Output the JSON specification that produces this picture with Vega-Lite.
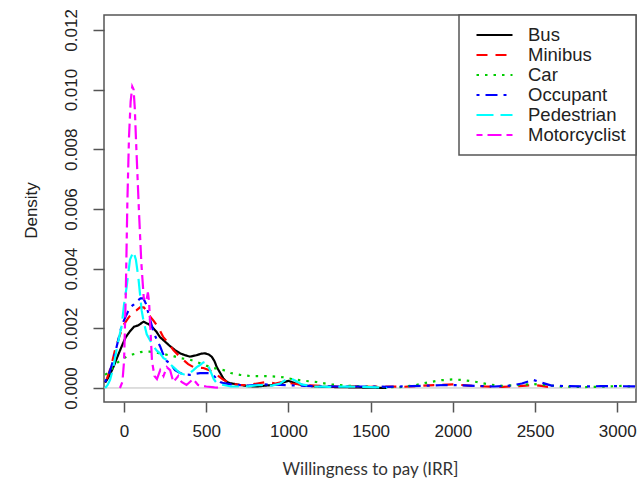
{
  "$schema": "https://vega.github.io/schema/vega-lite/v6.json",
  "width": 532,
  "height": 387,
  "autosize": "none",
  "padding": {"left": 104, "top": 15, "right": 3, "bottom": 101},
  "background": "white",
  "config": {
    "view": {"stroke": "#555", "strokeWidth": 1.5},
    "font": "Liberation Sans",
    "legend": {
      "orient": "top-right",
      "offset": 0,
      "strokeColor": "#555",
      "strokeWidth": 1.5,
      "fillColor": "white",
      "padding": 10,
      "symbolType": "stroke",
      "symbolSize": 1296,
      "symbolStrokeWidth": 2.2,
      "symbolOffset": 6,
      "clipHeight": 20,
      "labelFontSize": 18.5,
      "labelFont": "Liberation Sans",
      "labelColor": "#222",
      "labelOffset": 14,
      "rowPadding": 0,
      "labelLimit": 300
    }
  },
  "datasets": {
    "dens": [
      {"s":"Bus","x":-115,"y":0.00018},{"s":"Bus","x":-90,"y":0.0004},{"s":"Bus","x":-65,"y":0.0007},{"s":"Bus","x":-40,"y":0.00105},{"s":"Bus","x":-14,"y":0.0014},{"s":"Bus","x":10,"y":0.0017},{"s":"Bus","x":36,"y":0.0019},{"s":"Bus","x":60,"y":0.00205},{"s":"Bus","x":87,"y":0.0021},{"s":"Bus","x":118,"y":0.00222},{"s":"Bus","x":145,"y":0.00215},{"s":"Bus","x":168,"y":0.00206},{"s":"Bus","x":195,"y":0.0019},{"s":"Bus","x":219,"y":0.0017},{"s":"Bus","x":250,"y":0.00155},{"s":"Bus","x":280,"y":0.0014},{"s":"Bus","x":310,"y":0.00127},{"s":"Bus","x":341,"y":0.00116},{"s":"Bus","x":370,"y":0.0011},{"s":"Bus","x":401,"y":0.00105},{"s":"Bus","x":442,"y":0.0011},{"s":"Bus","x":470,"y":0.00115},{"s":"Bus","x":493,"y":0.00116},{"s":"Bus","x":515,"y":0.00112},{"s":"Bus","x":533,"y":0.00105},{"s":"Bus","x":550,"y":0.0009},{"s":"Bus","x":564,"y":0.0007},{"s":"Bus","x":585,"y":0.0005},{"s":"Bus","x":604,"y":0.00032},{"s":"Bus","x":625,"y":0.0002},{"s":"Bus","x":645,"y":0.00016},{"s":"Bus","x":706,"y":0.0001},{"s":"Bus","x":760,"y":0.00006},{"s":"Bus","x":807,"y":0.00005},{"s":"Bus","x":860,"y":0.00008},{"s":"Bus","x":908,"y":0.0001},{"s":"Bus","x":960,"y":0.00017},{"s":"Bus","x":1000,"y":0.00024},{"s":"Bus","x":1040,"y":0.00016},{"s":"Bus","x":1100,"y":0.00008},{"s":"Bus","x":1200,"y":0.00004},{"s":"Bus","x":1300,"y":0.00003},{"s":"Bus","x":1400,"y":0.00002},{"s":"Bus","x":1500,"y":0.00001},{"s":"Bus","x":1600,"y":0},
      {"s":"Minibus","x":-105,"y":0.0003},{"s":"Minibus","x":-80,"y":0.0007},{"s":"Minibus","x":-55,"y":0.00127},{"s":"Minibus","x":-30,"y":0.0017},{"s":"Minibus","x":-4,"y":0.0021},{"s":"Minibus","x":20,"y":0.0023},{"s":"Minibus","x":47,"y":0.0025},{"s":"Minibus","x":75,"y":0.0026},{"s":"Minibus","x":97,"y":0.0027},{"s":"Minibus","x":120,"y":0.0027},{"s":"Minibus","x":140,"y":0.00258},{"s":"Minibus","x":158,"y":0.0024},{"s":"Minibus","x":180,"y":0.00225},{"s":"Minibus","x":199,"y":0.0021},{"s":"Minibus","x":220,"y":0.0019},{"s":"Minibus","x":239,"y":0.0017},{"s":"Minibus","x":270,"y":0.0015},{"s":"Minibus","x":300,"y":0.00127},{"s":"Minibus","x":330,"y":0.0011},{"s":"Minibus","x":361,"y":0.00094},{"s":"Minibus","x":390,"y":0.0008},{"s":"Minibus","x":422,"y":0.0007},{"s":"Minibus","x":450,"y":0.00068},{"s":"Minibus","x":483,"y":0.00067},{"s":"Minibus","x":515,"y":0.0006},{"s":"Minibus","x":543,"y":0.00055},{"s":"Minibus","x":575,"y":0.0004},{"s":"Minibus","x":605,"y":0.00027},{"s":"Minibus","x":650,"y":0.00015},{"s":"Minibus","x":706,"y":0.0001},{"s":"Minibus","x":760,"y":0.0001},{"s":"Minibus","x":810,"y":0.00015},{"s":"Minibus","x":868,"y":0.0002},{"s":"Minibus","x":920,"y":0.00015},{"s":"Minibus","x":980,"y":0.00022},{"s":"Minibus","x":1020,"y":0.00015},{"s":"Minibus","x":1100,"y":0.0001},{"s":"Minibus","x":1200,"y":0.00007},{"s":"Minibus","x":1300,"y":0.00005},{"s":"Minibus","x":1400,"y":0.00006},{"s":"Minibus","x":1500,"y":0.00004},{"s":"Minibus","x":1600,"y":0.00005},{"s":"Minibus","x":1700,"y":0.00004},{"s":"Minibus","x":1800,"y":0.00007},{"s":"Minibus","x":1900,"y":0.0001},{"s":"Minibus","x":2000,"y":0.00012},{"s":"Minibus","x":2100,"y":0.00008},{"s":"Minibus","x":2200,"y":0.00005},{"s":"Minibus","x":2300,"y":0.00004},{"s":"Minibus","x":2400,"y":0.00006},{"s":"Minibus","x":2500,"y":0.0001},{"s":"Minibus","x":2550,"y":0.00006},{"s":"Minibus","x":2600,"y":0.00002},
      {"s":"Car","x":-115,"y":0.00044},{"s":"Car","x":-80,"y":0.0006},{"s":"Car","x":-45,"y":0.00083},{"s":"Car","x":-15,"y":0.00095},{"s":"Car","x":16,"y":0.00105},{"s":"Car","x":50,"y":0.00112},{"s":"Car","x":77,"y":0.00116},{"s":"Car","x":100,"y":0.0012},{"s":"Car","x":128,"y":0.00122},{"s":"Car","x":155,"y":0.00122},{"s":"Car","x":178,"y":0.0012},{"s":"Car","x":210,"y":0.00117},{"s":"Car","x":239,"y":0.00114},{"s":"Car","x":270,"y":0.0011},{"s":"Car","x":300,"y":0.00107},{"s":"Car","x":341,"y":0.001},{"s":"Car","x":401,"y":0.00095},{"s":"Car","x":430,"y":0.0009},{"s":"Car","x":462,"y":0.00083},{"s":"Car","x":500,"y":0.00075},{"s":"Car","x":543,"y":0.00067},{"s":"Car","x":605,"y":0.0006},{"s":"Car","x":650,"y":0.0005},{"s":"Car","x":706,"y":0.00044},{"s":"Car","x":766,"y":0.0004},{"s":"Car","x":807,"y":0.0004},{"s":"Car","x":868,"y":0.0004},{"s":"Car","x":930,"y":0.00038},{"s":"Car","x":968,"y":0.00036},{"s":"Car","x":1020,"y":0.0003},{"s":"Car","x":1080,"y":0.00025},{"s":"Car","x":1172,"y":0.0002},{"s":"Car","x":1250,"y":0.00012},{"s":"Car","x":1375,"y":0.00007},{"s":"Car","x":1500,"y":0.00004},{"s":"Car","x":1600,"y":0.00003},{"s":"Car","x":1679,"y":0.00003},{"s":"Car","x":1760,"y":0.00008},{"s":"Car","x":1861,"y":0.0002},{"s":"Car","x":1930,"y":0.00026},{"s":"Car","x":2003,"y":0.00029},{"s":"Car","x":2070,"y":0.00026},{"s":"Car","x":2145,"y":0.0002},{"s":"Car","x":2220,"y":0.00012},{"s":"Car","x":2300,"y":0.00007},{"s":"Car","x":2400,"y":0.0001},{"s":"Car","x":2490,"y":0.00013},{"s":"Car","x":2560,"y":0.0001},{"s":"Car","x":2650,"y":0.00005},{"s":"Car","x":2795,"y":0.00003},{"s":"Car","x":2900,"y":0.00004},{"s":"Car","x":2980,"y":0.00006},{"s":"Car","x":3027,"y":0.00007},{"s":"Car","x":3080,"y":0.00005},{"s":"Car","x":3120,"y":0.00003},
      {"s":"Occupant","x":-115,"y":0.0002},{"s":"Occupant","x":-90,"y":0.0005},{"s":"Occupant","x":-65,"y":0.00094},{"s":"Occupant","x":-40,"y":0.0015},{"s":"Occupant","x":-14,"y":0.0021},{"s":"Occupant","x":10,"y":0.0024},{"s":"Occupant","x":36,"y":0.0027},{"s":"Occupant","x":60,"y":0.0028},{"s":"Occupant","x":77,"y":0.0029},{"s":"Occupant","x":100,"y":0.003},{"s":"Occupant","x":118,"y":0.003},{"s":"Occupant","x":135,"y":0.0028},{"s":"Occupant","x":148,"y":0.0025},{"s":"Occupant","x":163,"y":0.0022},{"s":"Occupant","x":178,"y":0.0019},{"s":"Occupant","x":200,"y":0.0016},{"s":"Occupant","x":219,"y":0.0014},{"s":"Occupant","x":240,"y":0.0011},{"s":"Occupant","x":260,"y":0.0009},{"s":"Occupant","x":280,"y":0.00083},{"s":"Occupant","x":310,"y":0.0006},{"s":"Occupant","x":341,"y":0.0005},{"s":"Occupant","x":370,"y":0.00045},{"s":"Occupant","x":401,"y":0.00044},{"s":"Occupant","x":430,"y":0.00047},{"s":"Occupant","x":462,"y":0.0005},{"s":"Occupant","x":493,"y":0.0005},{"s":"Occupant","x":523,"y":0.0005},{"s":"Occupant","x":545,"y":0.00042},{"s":"Occupant","x":564,"y":0.0003},{"s":"Occupant","x":585,"y":0.0002},{"s":"Occupant","x":605,"y":0.00016},{"s":"Occupant","x":650,"y":0.00012},{"s":"Occupant","x":686,"y":0.0001},{"s":"Occupant","x":750,"y":0.00008},{"s":"Occupant","x":850,"y":0.00012},{"s":"Occupant","x":950,"y":0.0001},{"s":"Occupant","x":1050,"y":0.00008},{"s":"Occupant","x":1150,"y":0.00006},{"s":"Occupant","x":1300,"y":0.00005},{"s":"Occupant","x":1450,"y":0.00005},{"s":"Occupant","x":1600,"y":0.00004},{"s":"Occupant","x":1750,"y":0.00006},{"s":"Occupant","x":1850,"y":0.00008},{"s":"Occupant","x":1950,"y":0.0001},{"s":"Occupant","x":2050,"y":0.00009},{"s":"Occupant","x":2150,"y":0.00007},{"s":"Occupant","x":2250,"y":0.00005},{"s":"Occupant","x":2350,"y":0.00008},{"s":"Occupant","x":2420,"y":0.00015},{"s":"Occupant","x":2488,"y":0.00027},{"s":"Occupant","x":2540,"y":0.00018},{"s":"Occupant","x":2600,"y":0.00008},{"s":"Occupant","x":2700,"y":0.00006},{"s":"Occupant","x":2800,"y":0.00005},{"s":"Occupant","x":2900,"y":0.00006},{"s":"Occupant","x":3000,"y":0.00006},{"s":"Occupant","x":3120,"y":0.00005},
      {"s":"Pedestrian","x":-115,"y":0},{"s":"Pedestrian","x":-100,"y":0.0001},{"s":"Pedestrian","x":-85,"y":0.00027},{"s":"Pedestrian","x":-65,"y":0.0007},{"s":"Pedestrian","x":-45,"y":0.0013},{"s":"Pedestrian","x":-30,"y":0.0017},{"s":"Pedestrian","x":-14,"y":0.0021},{"s":"Pedestrian","x":0,"y":0.0028},{"s":"Pedestrian","x":16,"y":0.0034},{"s":"Pedestrian","x":36,"y":0.0043},{"s":"Pedestrian","x":57,"y":0.00457},{"s":"Pedestrian","x":72,"y":0.0043},{"s":"Pedestrian","x":87,"y":0.0037},{"s":"Pedestrian","x":107,"y":0.0026},{"s":"Pedestrian","x":120,"y":0.0022},{"s":"Pedestrian","x":138,"y":0.0018},{"s":"Pedestrian","x":158,"y":0.0016},{"s":"Pedestrian","x":178,"y":0.0014},{"s":"Pedestrian","x":199,"y":0.00125},{"s":"Pedestrian","x":219,"y":0.00116},{"s":"Pedestrian","x":240,"y":0.001},{"s":"Pedestrian","x":260,"y":0.00094},{"s":"Pedestrian","x":280,"y":0.0008},{"s":"Pedestrian","x":300,"y":0.0007},{"s":"Pedestrian","x":320,"y":0.0006},{"s":"Pedestrian","x":341,"y":0.0005},{"s":"Pedestrian","x":361,"y":0.00046},{"s":"Pedestrian","x":381,"y":0.00044},{"s":"Pedestrian","x":400,"y":0.0005},{"s":"Pedestrian","x":422,"y":0.0006},{"s":"Pedestrian","x":442,"y":0.0007},{"s":"Pedestrian","x":462,"y":0.00077},{"s":"Pedestrian","x":480,"y":0.00085},{"s":"Pedestrian","x":493,"y":0.00088},{"s":"Pedestrian","x":508,"y":0.0008},{"s":"Pedestrian","x":523,"y":0.0006},{"s":"Pedestrian","x":545,"y":0.0003},{"s":"Pedestrian","x":564,"y":0.00016},{"s":"Pedestrian","x":605,"y":0.0001},{"s":"Pedestrian","x":650,"y":0.00005},{"s":"Pedestrian","x":700,"y":0.00005},{"s":"Pedestrian","x":760,"y":0.00006},{"s":"Pedestrian","x":820,"y":0.0001},{"s":"Pedestrian","x":900,"y":0.00008},{"s":"Pedestrian","x":950,"y":0.00015},{"s":"Pedestrian","x":990,"y":0.0003},{"s":"Pedestrian","x":1010,"y":0.00033},{"s":"Pedestrian","x":1040,"y":0.00025},{"s":"Pedestrian","x":1080,"y":0.00012},{"s":"Pedestrian","x":1150,"y":0.00005},{"s":"Pedestrian","x":1250,"y":0.00004},{"s":"Pedestrian","x":1350,"y":0.00005},{"s":"Pedestrian","x":1450,"y":0.00004},{"s":"Pedestrian","x":1540,"y":0.00002},{"s":"Pedestrian","x":1600,"y":0},
      {"s":"Motorcyclist","x":-25,"y":0},{"s":"Motorcyclist","x":-10,"y":0.0002},{"s":"Motorcyclist","x":0,"y":0.0009},{"s":"Motorcyclist","x":10,"y":0.003},{"s":"Motorcyclist","x":20,"y":0.0062},{"s":"Motorcyclist","x":30,"y":0.0084},{"s":"Motorcyclist","x":40,"y":0.0096},{"s":"Motorcyclist","x":50,"y":0.0101},{"s":"Motorcyclist","x":58,"y":0.01},{"s":"Motorcyclist","x":65,"y":0.0094},{"s":"Motorcyclist","x":75,"y":0.008},{"s":"Motorcyclist","x":90,"y":0.006},{"s":"Motorcyclist","x":105,"y":0.0042},{"s":"Motorcyclist","x":120,"y":0.003},{"s":"Motorcyclist","x":135,"y":0.0029},{"s":"Motorcyclist","x":145,"y":0.0032},{"s":"Motorcyclist","x":152,"y":0.0029},{"s":"Motorcyclist","x":160,"y":0.002},{"s":"Motorcyclist","x":170,"y":0.0009},{"s":"Motorcyclist","x":185,"y":0.0004},{"s":"Motorcyclist","x":200,"y":0.0003},{"s":"Motorcyclist","x":220,"y":0.0006},{"s":"Motorcyclist","x":240,"y":0.0004},{"s":"Motorcyclist","x":260,"y":0.0007},{"s":"Motorcyclist","x":280,"y":0.0006},{"s":"Motorcyclist","x":300,"y":0.0002},{"s":"Motorcyclist","x":330,"y":0.0004},{"s":"Motorcyclist","x":350,"y":0.0002},{"s":"Motorcyclist","x":380,"y":0.0001},{"s":"Motorcyclist","x":420,"y":0.0003},{"s":"Motorcyclist","x":450,"y":0.0001},{"s":"Motorcyclist","x":500,"y":0.00005},{"s":"Motorcyclist","x":550,"y":0.00002},{"s":"Motorcyclist","x":600,"y":0}
    ]
  },
  "layer": [
    {
      "data": {"values": [{}]},
      "mark": {"type": "rule", "color": "#bebebe", "strokeWidth": 1},
      "encoding": {"y": {"datum": 0, "type": "quantitative"}}
    },
    {
      "data": {"name": "dens"},
      "mark": {"type": "line", "strokeWidth": 2.2, "clip": true},
      "encoding": {
        "x": {
          "field": "x", "type": "quantitative",
          "scale": {"domain": [-122, 3114], "nice": false, "zero": false},
          "axis": {
            "values": [0, 500, 1000, 1500, 2000, 2500, 3000],
            "format": "d",
            "title": "Willingness to pay (IRR]",
            "domain": false, "grid": false,
            "tickSize": 10, "tickColor": "#555", "tickWidth": 1.5,
            "labelFontSize": 17, "labelColor": "#222", "labelPadding": 11,
            "labelFont": "Liberation Sans",
            "titleFont": "Lato", "titleFontSize": 17, "titleFontWeight": "normal",
            "titleColor": "#333", "titleBaseline": "middle", "titleY": 67
          }
        },
        "y": {
          "field": "y", "type": "quantitative",
          "scale": {"domain": [-0.00047, 0.0125], "nice": false, "zero": false},
          "axis": {
            "values": [0, 0.002, 0.004, 0.006, 0.008, 0.01, 0.012],
            "format": ".3f",
            "title": "Density",
            "domain": false, "grid": false,
            "tickSize": 11, "tickColor": "#555", "tickWidth": 1.5,
            "labelAngle": -90, "labelAlign": "center", "labelBaseline": "alphabetic",
            "labelFontSize": 17, "labelColor": "#222", "labelPadding": 17,
            "labelFont": "Liberation Sans",
            "titleFont": "Liberation Sans", "titleFontSize": 17, "titleFontWeight": "normal",
            "titleColor": "#222", "titleAngle": -90, "titleAlign": "center", "titleBaseline": "middle",
            "titleX": -73, "titleY": 195
          }
        },
        "color": {
          "field": "s", "type": "nominal",
          "scale": {
            "domain": ["Bus", "Minibus", "Car", "Occupant", "Pedestrian", "Motorcyclist"],
            "range": ["#000000", "#FF0000", "#00CD00", "#0000FF", "#00FFFF", "#FF00FF"]
          },
          "legend": {"title": null}
        },
        "strokeDash": {
          "field": "s", "type": "nominal",
          "scale": {
            "domain": ["Bus", "Minibus", "Car", "Occupant", "Pedestrian", "Motorcyclist"],
            "range": [[1, 0], [11, 8], [2.5, 6], [3, 6, 12, 6], [17, 7], [6, 5, 14, 5]]
          },
          "legend": {"title": null}
        }
      }
    }
  ]
}
